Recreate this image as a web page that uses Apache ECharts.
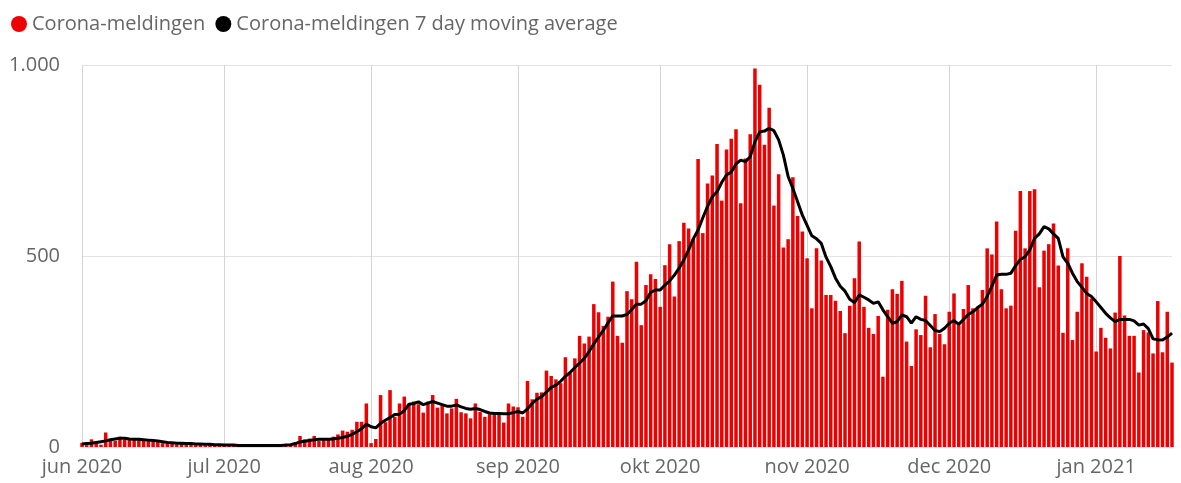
<!DOCTYPE html>
<html>
<head>
<meta charset="utf-8">
<script src="https://cdn.jsdelivr.net/npm/echarts@6.0.0/dist/echarts.min.js"></script>
<style>
  html, body { margin: 0; padding: 0; background: #fff; }
  #chart { width: 1181px; height: 483px; }
</style>
</head>
<body>
<div id="chart"></div>
<script>
// Daily reports (bars), per month
const casesJun = [11,5,20,10,6,38,16,16,27,20,20,22,21,16,20,14,13,10,8,10,7,9,6,8,5,7,4,5,6,4];
const casesJul = [5,3,4,6,3,4,5,3,2,4,3,5,4,3,6,10,29,20,22,29,16,18,21,27,33,43,40,45,66,66,114];
const casesAug = [10,21,136,65,149,79,114,132,110,119,112,90,119,136,103,110,88,101,126,91,88,75,114,92,79,86,84,84,64,114,106];
const casesSep = [104,79,173,125,142,143,200,186,177,167,235,193,232,291,271,289,374,353,317,341,433,291,273,408,387,485,319,424,452,440];
const casesOct = [367,476,531,394,539,587,572,545,754,560,690,711,793,645,779,807,832,638,755,819,991,948,791,888,632,714,522,544,706,605,564];
const casesNov = [494,363,520,488,398,398,383,356,298,370,442,538,367,312,296,343,184,359,413,401,435,276,212,308,293,396,261,348,296,269];
const casesDec = [354,402,319,361,424,363,367,411,520,504,590,413,363,370,566,670,520,670,675,418,514,531,585,475,299,520,280,354,481,446,389];
const casesJan = [250,312,286,258,352,500,344,291,291,195,306,300,245,382,248,354,221];

// 7 day moving average (line), per month
const maJun = [8,9,10,12,14,16,19,21,23,23,21,20,20,19,18,17,16,14,12,11,10,10,9,9,8,8,7,7,6,6];
const maJul = [5,5,5,4,4,4,4,4,4,4,4,4,4,5,6,9,13,15,17,19,20,20,20,21,23,25,28,33,40,48,60];
const maAug = [53,50,62,70,77,85,86,95,112,114,118,111,115,119,115,111,107,107,110,105,101,99,101,98,93,89,88,88,87,87,90];
const maSep = [93,89,100,114,125,132,144,156,162,172,185,195,208,220,232,250,270,288,305,325,343,343,343,347,360,374,374,383,405,411];
const maOct = [411,424,435,450,468,490,516,545,568,600,630,655,668,693,712,720,741,751,747,760,799,825,827,834,828,804,764,708,677,642,607];
const maNov = [580,553,545,533,497,472,442,421,408,387,378,398,392,385,376,380,359,341,324,328,346,341,324,341,334,331,318,305,302,311];
const maDec = [324,331,321,334,347,354,365,374,394,421,450,452,452,455,474,491,498,516,546,558,577,571,558,546,498,481,455,433,418,402,394];
const maJan = [380,365,350,338,328,334,334,334,330,319,322,310,283,281,280,288,298];

// Tick labels (one per month start)
const monthLabels = ['jun 2020','jul 2020','aug 2020','sep 2020','okt 2020','nov 2020','dec 2020','jan 2021'];
const yTickLabels = {0: '0', 500: '500', 1000: '1.000'};
const seriesNames = ['Corona-meldingen', 'Corona-meldingen 7 day moving average'];

const casesByMonth = [casesJun, casesJul, casesAug, casesSep, casesOct, casesNov, casesDec, casesJan];
const maByMonth = [maJun, maJul, maAug, maSep, maOct, maNov, maDec, maJan];
const monthStarts = [[2020,6],[2020,7],[2020,8],[2020,9],[2020,10],[2020,11],[2020,12],[2021,1]];

// categories: one date per day
const categories = [];
const labelAt = {};
casesByMonth.forEach((arr, m) => {
  const [yy, mm] = monthStarts[m];
  arr.forEach((_, d) => {
    const key = yy + '-' + String(mm).padStart(2,'0') + '-' + String(d+1).padStart(2,'0');
    if (d === 0) labelAt[key] = monthLabels[m];
    categories.push(key);
  });
});
const cases = [].concat(...casesByMonth);
const ma = [].concat(...maByMonth);

const FONT = '"Segoe UI", "Open Sans", "Noto Sans", sans-serif';
const chart = echarts.init(document.getElementById('chart'), null, {renderer: 'canvas'});
chart.setOption({
  animation: false,
  textStyle: { fontFamily: FONT },
  legend: {
    left: 6, top: 9,
    icon: 'circle',
    itemWidth: 16, itemHeight: 16, itemGap: 10,
    textStyle: { fontSize: 20, color: '#666', fontFamily: FONT },
    data: seriesNames
  },
  grid: { left: 82, right: 9, top: 65, bottom: 36 },
  xAxis: {
    type: 'category',
    boundaryGap: false,
    data: categories,
    axisLine: { show: false },
    axisTick: { show: false },
    axisLabel: {
      interval: (i, v) => labelAt[v] !== undefined,
      formatter: v => labelAt[v] || '',
      color: '#666', fontSize: 20, margin: 10, fontFamily: FONT
    },
    splitLine: {
      show: true,
      interval: (i, v) => labelAt[v] !== undefined,
      lineStyle: { color: '#d4d4d4', width: 1 }
    }
  },
  yAxis: {
    type: 'value',
    min: 0, max: 1000, interval: 500,
    axisLine: { show: false },
    axisTick: { show: false },
    axisLabel: {
      formatter: v => yTickLabels[v] !== undefined ? yTickLabels[v] : String(v),
      color: '#666', fontSize: 20, margin: 22, fontFamily: FONT
    },
    splitLine: { lineStyle: { color: '#e3e3e3', width: 1 } }
  },
  series: [
    {
      name: seriesNames[0],
      type: 'bar',
      data: cases,
      barWidth: 3.5,
      clip: false,
      itemStyle: { color: '#ee0000' },
      color: '#ee0000'
    },
    {
      name: seriesNames[1],
      type: 'line',
      data: ma,
      showSymbol: false,
      symbol: 'circle',
      color: '#000',
      lineStyle: { color: '#000', width: 3 },
      itemStyle: { color: '#000' },
      z: 5
    }
  ]
});
</script>
</body>
</html>
